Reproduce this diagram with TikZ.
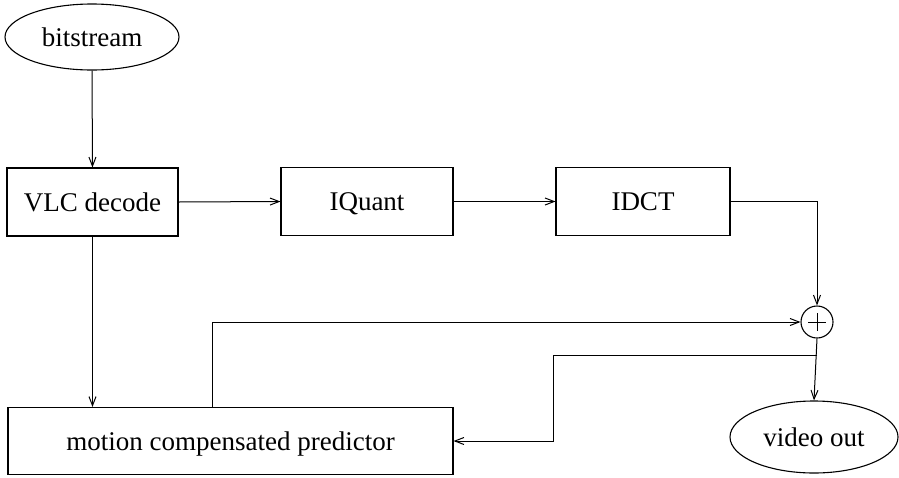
\documentclass[tikz,border=0pt]{standalone}
\usepackage{fontspec}
\setmainfont{Liberation Serif}
\usetikzlibrary{shapes.geometric,arrows.meta,calc}
\begin{document}
\begin{tikzpicture}[x=1pt,y=-1pt,
  every node/.style={font=\fontsize{27}{32}\selectfont, line width=1.1pt,
    text height=18pt, text depth=0pt},
  blk/.style={draw, rectangle, minimum height=68pt, inner sep=0pt},
  term/.style={draw, ellipse, inner sep=0pt},
  link/.style={line width=1pt, -{Straight Barb[length=9pt,width=7pt]}},
  wire/.style={line width=1pt}]
\useasboundingbox (0,0) rectangle (899,477);
% blocks
\node[term, minimum width=174pt, minimum height=66pt] (bits) at (92,37) {bitstream};
\node[blk, minimum width=171pt] (vlc) at (92.5,202) {VLC decode};
\node[blk, minimum width=172pt] (iq) at (367,201.5) {IQuant};
\node[blk, minimum width=174pt] (idct) at (643,201.5) {IDCT};
\node[draw, circle, minimum size=32pt, inner sep=0pt, text height=0pt] (sum) at (817,322) {};
\node[blk, minimum width=445pt, minimum height=67pt] (pred) at (230.5,441) {motion compensated predictor};
\node[term, minimum width=168pt, minimum height=72pt] (vout) at (814,437) {video out};
% plus sign inside the adder
\draw[wire] ($(sum.center)+(-9,0)$) -- ($(sum.center)+(9,0)$)
            ($(sum.center)+(0,-9)$) -- ($(sum.center)+(0,9)$);
% helper points
\coordinate (tap) at ($(pred.north west)+(205,0)$);
\coordinate (split) at (817,355);
\coordinate (bend) at (553,355);
% connections
\draw[link] (bits.south) -- (vlc.north);
\draw[link] (vlc.east) -- (iq.west);
\draw[link] (iq.east) -- (idct.west);
\draw[link] (idct.east) -| (sum.north);
\draw[link] (vlc.south) -- (vlc.south |- pred.north);
\draw[link] (tap) |- (sum.west);
\draw[link] (sum.south) -- (vout.north);
\draw[link] (split) -- (bend) |- (pred.east);
\end{tikzpicture}
\end{document}
